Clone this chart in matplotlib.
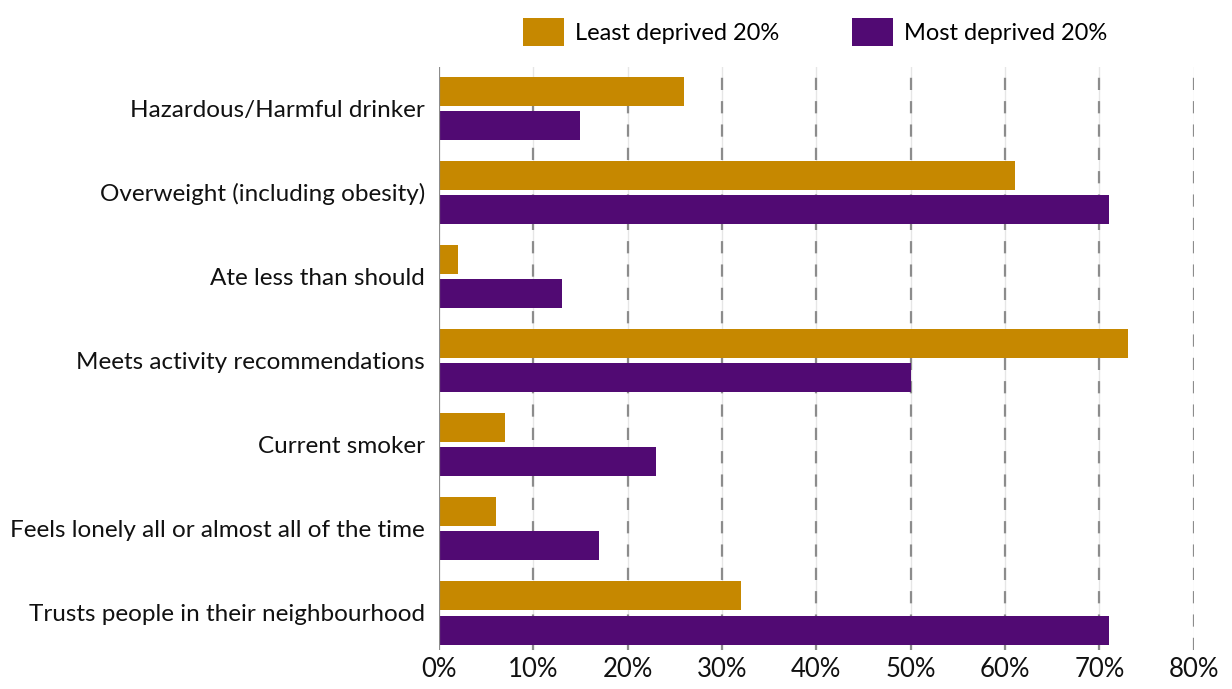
import matplotlib
matplotlib.use("Agg")
import matplotlib.pyplot as plt
import numpy as np

categories = [
    "Hazardous/Harmful drinker",
    "Overweight (including obesity)",
    "Ate less than should",
    "Meets activity recommendations",
    "Current smoker",
    "Feels lonely all or almost all of the time",
    "Trusts people in their neighbourhood",
]
least_deprived = [26, 61, 2, 73, 7, 6, 32]
most_deprived = [15, 71, 13, 50, 23, 17, 71]
x_ticks = [0, 10, 20, 30, 40, 50, 60, 70, 80]

gold = "#C68800"
purple = "#510A73"

plt.rcParams["font.family"] = ["Lato", "DejaVu Sans"]

fig = plt.figure(figsize=(12.32, 6.89), dpi=100)
ax = fig.add_axes([0.3563, 0.0566, 0.6127, 0.8462])

y = np.arange(len(categories))
h = 0.345
gap = 0.06
ax.barh(y - h / 2 - gap / 2, least_deprived, height=h, color=gold,
        label="Least deprived 20%", zorder=3)
ax.barh(y + h / 2 + gap / 2, most_deprived, height=h, color=purple,
        label="Most deprived 20%", zorder=3)

ax.set_xlim(0, 80)
ax.set_ylim(6.44, -0.49)
ax.set_xticks(x_ticks)
ax.set_xticklabels([f"{t}%" for t in x_ticks], fontsize=18.5, color="#111111")
ax.set_yticks(y)
ax.set_yticklabels(categories, fontsize=17.5, color="#111111")
ax.tick_params(axis="y", length=0, pad=10)
ax.tick_params(axis="x", length=0, pad=5)

# faint solid grid under dashed grey lines
for t in x_ticks[1:]:
    ax.axvline(t, color="#e6e6e6", lw=1, zorder=1)
    ax.axvline(t, color="#8c8c8c", lw=1.6, ls=(0, (5.5, 5)), zorder=2)
ax.axvline(0, color="#8c8c8c", lw=1.6, zorder=4)

for s in ax.spines.values():
    s.set_visible(False)

fig.legend(loc="upper left", bbox_to_anchor=(0.407, 1.005), ncol=2, frameon=False,
           fontsize=17, handlelength=1.75, handleheight=1.45, columnspacing=3.1,
           handletextpad=0.45)

fig.savefig("out.png", dpi=100)
